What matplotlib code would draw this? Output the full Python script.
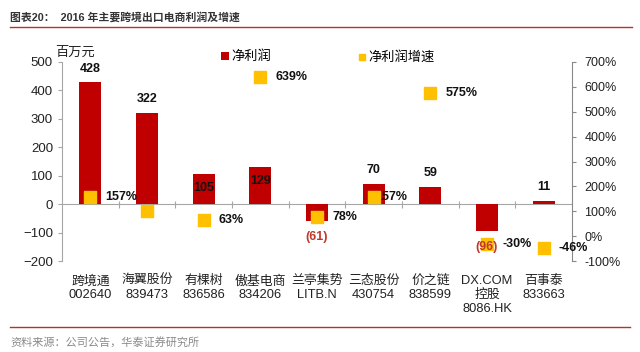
import matplotlib.pyplot as plt
from matplotlib.lines import Line2D

plt.rcParams['font.family'] = ['Liberation Sans', 'Noto Sans CJK SC']

# 公司名称 / 代码
names = ['跨境通\n002640', '海翼股份\n839473', '有棵树\n836586', '傲基电商\n834206',
         '兰亭集势\nLITB.N', '三态股份\n430754', '价之链\n838599',
         'DX.COM\n控股\n8086.HK', '百事泰\n833663']
# 净利润 (百万元)
profit = [428, 322, 105, 129, -61, 70, 59, -96, 11]
# 净利润增速 (%)
growth = [157, 100, 63, 639, 78, 157, 575, -30, -46]
growth_labels = ['157%', '', '63%', '639%', '78%', '157%', '575%', '-30%', '-46%']
profit_ticks = [-200, -100, 0, 100, 200, 300, 400, 500]
growth_ticks = [-100, 0, 100, 200, 300, 400, 500, 600, 700]

RED = '#C00000'
GOLD = '#FFC000'
GRAY = '#A6A6A6'

fig = plt.figure(figsize=(6.4, 3.52), dpi=100)
ax = fig.add_axes([62 / 640, 91 / 352, 510 / 640, 199 / 352])
x = list(range(len(names)))

bars = ax.bar(x, profit, width=0.39, color=RED, zorder=2)
ax.set_xlim(-0.5, len(names) - 0.5)
ax.set_ylim(-200, 500)
ax.axhline(0, color=GRAY, lw=0.8, zorder=1)
ax.vlines([i + 0.5 for i in x[:-1]], -12, 12, color=GRAY, lw=0.8, zorder=1)
ax.set_xticks(x, names)
ax.tick_params(axis='x', length=0, pad=10, labelsize=9.3, colors='#222222')
ax.set_yticks(profit_ticks)
ax.tick_params(axis='y', length=3, labelsize=9.5, colors='#222222')
ax.tick_params(axis='y', color=GRAY)
for s in ['top', 'bottom', 'right']:
    ax.spines[s].set_visible(False)
ax.spines['left'].set_color(GRAY)

ax2 = ax.twinx()
ax2.set_ylim(-100, 700)
sc = ax2.scatter(x, growth, marker='s', s=75, color=GOLD, zorder=3)
ax2.set_yticks(growth_ticks, [f'{t}%' for t in growth_ticks])
ax2.tick_params(axis='y', length=3, labelsize=9, colors='#222222', pad=6)
ax2.tick_params(axis='y', color='#888888')
for s in ['top', 'bottom', 'left']:
    ax2.spines[s].set_visible(False)
ax2.spines['right'].set_color('#888888')

# 净利润数据标签
for i, v in enumerate(profit):
    if v >= 0:
        dy = -10 if v in (105, 129) else 10
        ax2.annotate(str(v), xy=(i, v), xycoords=ax.transData, xytext=(0, dy),
                     textcoords='offset points', ha='center', va='center',
                     fontsize=9, fontweight='bold', color='#111111', zorder=5)
    else:
        ax2.annotate(f'({-v})', xy=(i, v), xycoords=ax.transData, xytext=(0, -11),
                     textcoords='offset points', ha='center', va='center',
                     fontsize=9, fontweight='bold', color='#C0392B', zorder=5)

# 增速数据标签
for i, (g, lab) in enumerate(zip(growth, growth_labels)):
    if not lab:
        continue
    dx = 1 if i == 5 else 11
    ax2.annotate(lab, xy=(i, g), xytext=(dx, 0), textcoords='offset points',
                 ha='left', va='center', fontsize=9, fontweight='bold',
                 color='#111111', zorder=2 if i == 5 else 4)

fig.legend([bars, sc], ['净利润', '净利润增速'], loc='center left',
           bbox_to_anchor=(214 / 640, 1 - 57 / 352), ncol=2, frameon=False,
           columnspacing=6.6, handlelength=0.6, handleheight=0.6,
           handletextpad=0.2, markerscale=0.55, fontsize=9.5, borderpad=0)

fig.text(55 / 640, 1 - 53 / 352, '百万元', fontsize=9.5, va='center', color='#222222')
fig.text(10 / 640, 1 - 17 / 352, '图表20：  2016 年主要跨境出口电商利润及增速',
         fontsize=7.8, fontweight='bold', va='center', color='#333333')
fig.text(10 / 640, 1 - 342 / 352, '资料来源：公司公告，华泰证券研究所',
         fontsize=8, va='center', color='#8a8a8a')
fig.add_artist(Line2D([10 / 640, 632 / 640], [1 - 27 / 352] * 2, color='#B8312F', lw=1))
fig.add_artist(Line2D([10 / 640, 630 / 640], [1 - 327 / 352] * 2, color='#B8312F', lw=1))

fig.savefig('out.png', dpi=100, facecolor='white')
